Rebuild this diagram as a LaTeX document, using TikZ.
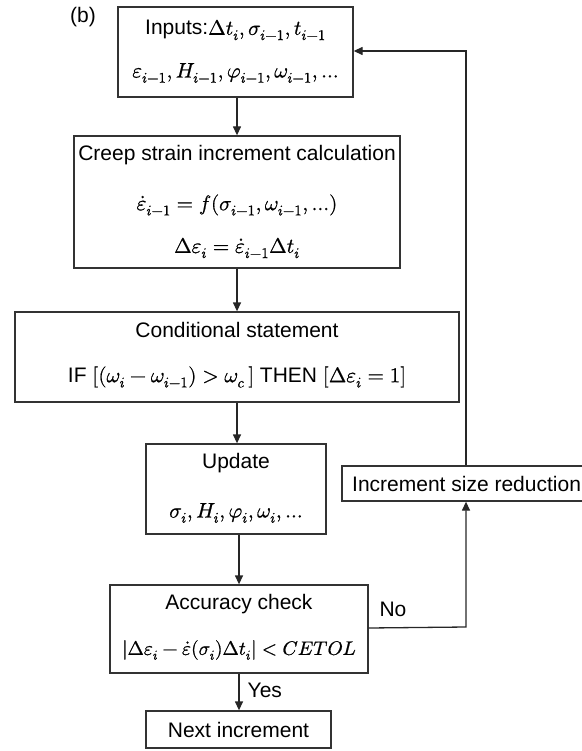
\documentclass[tikz,border=0pt]{standalone}
\usepackage{fontspec}
\usepackage{unicode-math}
\setmainfont{Liberation Sans}
\setmathfont{Latin Modern Math}[FakeBold=0.8,Scale=1.0]
\usetikzlibrary{arrows.meta}
\tikzset{
  box/.style={draw=black!80, line width=1.3pt, rectangle, inner sep=0pt},
  txt/.style={inner sep=0pt, font=\fontsize{21}{25}\selectfont},
  arr/.style={line width=1.3pt, draw=black!85, -{Triangle[length=9pt,width=8pt]}},
}
\begin{document}
\begin{tikzpicture}[x=1pt,y=-1pt]
\useasboundingbox (0,0) rectangle (581,751);
% boxes
\node[box, minimum width=235pt, minimum height=90pt] (in) at (235.5,52) {};
\node[box, minimum width=326pt, minimum height=132pt] (creep) at (237,202) {};
\node[box, minimum width=444pt, minimum height=90pt] (cond) at (237,357) {};
\node[box, minimum width=180pt, minimum height=90pt] (upd) at (236,489) {};
\node[box, minimum width=258pt, minimum height=88pt] (acc) at (239,629) {};
\node[box, minimum width=244pt, minimum height=35pt] (inc) at (464,483.5) {};
\node[box, minimum width=185pt, minimum height=37pt] (next) at (238.5,729.5) {};
% texts
\node[txt] (lb) at (83,17) {(b)};
\node[txt] (in1) at (235.5,30) {Inputs:$\Delta t_i,\sigma_{i-1},t_{i-1}$};
\node[txt] (in2) at (235.5,73) {$\varepsilon_{i-1},H_{i-1},\varphi_{i-1},\omega_{i-1},\ldots$};
\node[txt] (cr1) at (237,155) {Creep strain increment calculation};
\node[txt] (cr2) at (237,205) {$\dot{\varepsilon}_{i-1}=f(\sigma_{i-1},\omega_{i-1},\ldots)$};
\node[txt] (cr3) at (237,248) {$\Delta\varepsilon_i=\dot{\varepsilon}_{i-1}\Delta t_i$};
\node[txt] (co1) at (237,330) {Conditional statement};
\node[txt] (co2) at (237,377) {IF $[(\omega_i-\omega_{i-1})>\omega_c\,]$ THEN $[\Delta\varepsilon_i=1]$};
\node[txt] (up1) at (236,463) {Update};
\node[txt] (up2) at (236,513) {$\sigma_i,H_i,\varphi_i,\omega_i,\ldots$};
\node[txt] (ac1) at (239,604) {Accuracy check};
\node[txt, font=\fontsize{19.5}{23}\selectfont] (ac2) at (239,650) {$|\Delta\varepsilon_i-\dot{\varepsilon}(\sigma_i)\Delta t_i|<CETOL$};
\node[txt, anchor=west] (inct) at (352,483.5) {Increment size reduction};
\node[txt] (nxt) at (238.5,729.5) {Next increment};
% connectors
\draw[arr] (in.south -| 237,0) -- (creep.north -| 237,0);
\draw[arr] (creep.south -| 237,0) -- (cond.north -| 237,0);
\draw[arr] (cond.south -| 237,0) -- (upd.north -| 237,0);
\draw[arr] (upd.south -| 239,0) -- (acc.north -| 239,0);
\draw[arr] (acc.south) -- node[txt, right=8pt, pos=0.45] (yes) {Yes} (next.north -| acc.south);
\coordinate (c1) at (466,627);
\coordinate (c2) at (466,51);
\draw[arr] (acc.east |- 0,628) -- (c1) -- (inc.south -| c1);
\node[txt] (no) at (393,609) {No};
\draw[arr] (inc.north -| c2) -- (c2) -- (in.east |- c2);
\end{tikzpicture}
\end{document}
